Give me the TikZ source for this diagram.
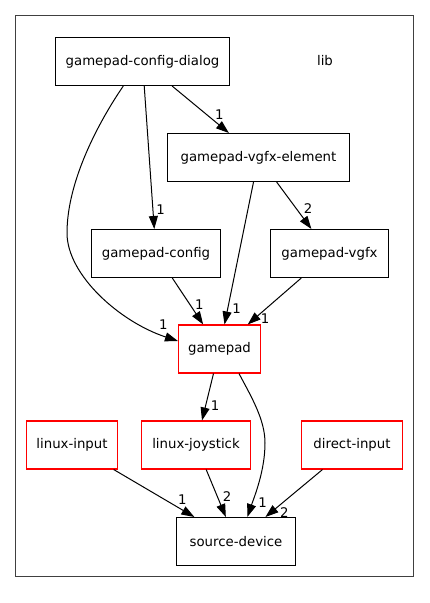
\documentclass[tikz,border=0pt]{standalone}
\usepackage{fontspec}
\setmainfont{DejaVu Sans}
\usetikzlibrary{arrows.meta}
\definecolor{gvred}{RGB}{255,0,0}
\begin{document}
\begin{tikzpicture}[x=1pt,y=-1pt,
  every node/.style={font=\fontsize{13.3}{16}\selectfont},
  box/.style={draw=black, line width=1pt, inner sep=0pt, minimum height=48pt},
  redbox/.style={rectangle, draw=gvred, line width=1.1pt, inner sep=0pt, minimum height=48pt},
  edge/.style={draw=black, line width=1pt, -{Triangle[length=13pt,width=9pt]}},
  lbl/.style={inner sep=0pt}]
\useasboundingbox (0,0) rectangle (429,603);
\draw[line width=1pt, draw=black!75] (15.5,15.5) rectangle (413.5,576.5);
\node (lib) at (325,61) {lib};
\node[box, minimum width=174pt] (dialog) at (142.5,61.5) {gamepad-config-dialog};
\node[box, minimum width=182pt] (element) at (258.5,157.5) {gamepad-vgfx-element};
\node[box, minimum width=129pt] (config) at (156,253.5) {gamepad-config};
\node[box, minimum width=118pt] (vgfx) at (329.5,253.5) {gamepad-vgfx};
\node[redbox, minimum width=82pt] (gamepad) at (219.5,349) {gamepad};
\node[redbox, minimum width=91pt] (linput) at (72,445) {linux-input};
\node[redbox, minimum width=109pt] (joy) at (196,445) {linux-joystick};
\node[redbox, minimum width=101pt] (direct) at (352,445) {direct-input};
\node[box, minimum width=119pt] (source) at (236,541.5) {source-device};

\draw[edge] (dialog) -- (element);
\draw[edge] (dialog) -- (config);
\draw[edge] ([xshift=-19.2pt]dialog.south) .. controls (100,120) and (67,180) .. (67,233)
   .. controls (67,275) and (120,322) .. ([yshift=8pt]gamepad.west);
\draw[edge] (element) -- (vgfx);
\draw[edge] (element) -- (gamepad);
\draw[edge] (config) -- (gamepad);
\draw[edge] (vgfx) -- (gamepad);
\draw[edge] (gamepad) -- (joy);
\draw[edge] ([xshift=19.5pt]gamepad.south) .. controls (252,398) and (265,420) .. (265,443)
   .. controls (265,470) and (255,495) .. ([xshift=11.3pt]source.north);
\draw[edge] (linput) -- (source);
\draw[edge] (joy) -- (source);
\draw[edge] (direct) -- (source);

\node[lbl] (l1) at (219.3,114.3) {1};
\node[lbl] (l2) at (160.7,209.3) {1};
\node[lbl] (l3) at (308,208.3) {2};
\node[lbl] (l4) at (163.3,325) {1};
\node[lbl] (l5) at (199.3,305) {1};
\node[lbl] (l6) at (236.7,308.3) {1};
\node[lbl] (l7) at (265,318.3) {1};
\node[lbl] (l8) at (215,405.7) {1};
\node[lbl] (l9) at (182.3,500) {1};
\node[lbl] (l10) at (227,496.7) {2};
\node[lbl] (l11) at (262.7,502.3) {1};
\node[lbl] (l12) at (284.3,512.3) {2};
\end{tikzpicture}
\end{document}
